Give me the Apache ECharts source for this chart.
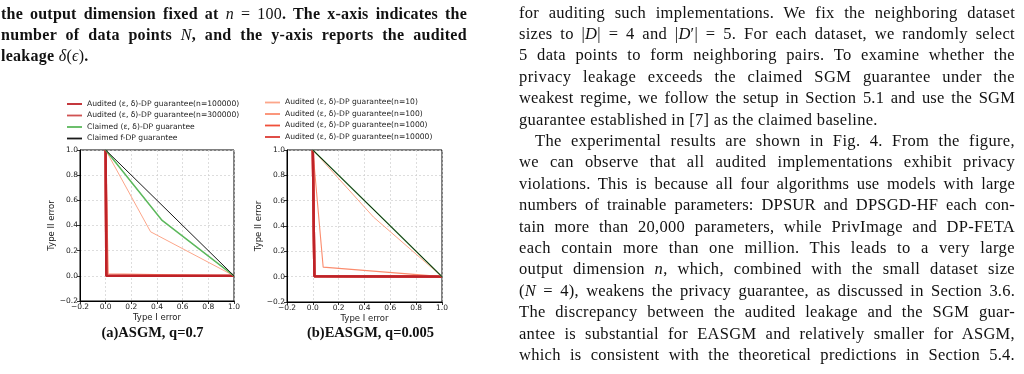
<!DOCTYPE html>
<html>
<head>
<meta charset="utf-8">
<script src="https://cdn.jsdelivr.net/npm/echarts/dist/echarts.min.js"></script>
<style>
  html, body { margin:0; padding:0; background:#fff; }
  #wrap { position:relative; width:1024px; height:374px; overflow:hidden; background:#fff; }
  #chart { position:absolute; left:0; top:0; width:1024px; height:374px; }
  .ln { position:absolute; height:21px; line-height:21px; white-space:nowrap; color:#111; }
  .body { font-family:"Liberation Serif", "DejaVu Serif", serif; font-size:16.5px; }
  .cap { font-family:"Liberation Serif", "DejaVu Serif", serif; font-size:16px; font-weight:bold; }
  .m { font-weight:normal; font-style:italic; }
  .r { font-weight:normal; }
</style>
</head>
<body>
<div id="wrap">
  <div id="chart"></div>
  <div id="text"></div>
</div>
<script>
// ---------- data ----------
const axisMin = -0.2, axisMax = 1.0, axisStep = 0.2;
const tickLabels = ['\u22120.2', '0.0', '0.2', '0.4', '0.6', '0.8', '1.0'];

const nameN10     = 'Audited (\u03b5, \u03b4)-DP guarantee(n=10)';
const nameN100    = 'Audited (\u03b5, \u03b4)-DP guarantee(n=100)';
const nameN1000   = 'Audited (\u03b5, \u03b4)-DP guarantee(n=1000)';
const nameN10000  = 'Audited (\u03b5, \u03b4)-DP guarantee(n=10000)';
const nameN100000 = 'Audited (\u03b5, \u03b4)-DP guarantee(n=100000)';
const nameN300000 = 'Audited (\u03b5, \u03b4)-DP guarantee(n=300000)';
const nameEdp     = 'Claimed (\u03b5, \u03b4)-DP guarantee';
const nameFdp     = 'Claimed f-DP guarantee';

// (a) ASGM, q=0.7   points are [Type I error, Type II error]
const asgmN10     = [[0, 1], [0.35, 0.35], [1, 0]];
const asgmN100    = [[0, 1], [0.02, 0.017], [1, 0]];
const asgmN1000   = [[0, 1], [0.006, 0.002], [1, 0]];
const asgmN10000  = [[0, 1], [0.006, 0.001], [1, 0]];
const asgmN100000 = [[0, 1], [0.005, 0], [1, 0]];
const asgmN300000 = [[0, 1], [0.005, 0], [1, 0]];
const asgmEdp     = [[0, 1], [0.44, 0.44], [1, 0]];
const asgmFdp     = [[0, 1], [1, 0]];

// (b) EASGM, q=0.005
const easgmN10     = [[0, 1], [0.47, 0.47], [1, 0]];
const easgmN100    = [[0, 1], [0.08, 0.075], [1, 0]];
const easgmN1000   = [[0, 1], [0.012, 0.005], [1, 0]];
const easgmN10000  = [[0, 1], [0.012, 0.004], [1, 0]];
const easgmN100000 = [[0, 1], [0.012, 0.003], [1, 0]];
const easgmN300000 = [[0, 1], [0.012, 0.003], [1, 0]];
const easgmEdp     = [[0, 1], [0.5, 0.5], [1, 0]];
const easgmFdp     = [[0, 1], [1, 0]];

const legendA = [nameN100000, nameN300000, nameEdp, nameFdp];
const legendB = [nameN10, nameN100, nameN1000, nameN10000];

const captionA = '(a)ASGM, q=0.7';
const captionB = '(b)EASGM, q=0.005';
const xName = 'Type I error';
const yName = 'Type II error';

// ---------- page text ----------
const leftLines = [
  'the output dimension fixed at <span class="m">n</span> <span class="r">= 100</span>. The x-axis indicates the',
  'number of data points <span class="m">N</span>, and the y-axis reports the audited',
  'leakage <span class="m">\u03b4</span><span class="r">(</span><span class="m">\u03f5</span><span class="r">)</span>.'
];
const rightLines = [
  'for auditing such implementations. We fix the neighboring dataset',
  'sizes to |<i>D</i>| = 4 and |<i>D</i>\u2032| = 5. For each dataset, we randomly select',
  '5 data points to form neighboring pairs. To examine whether the',
  'privacy leakage exceeds the claimed SGM guarantee under the',
  'weakest regime, we follow the setup in Section 5.1 and use the SGM',
  'guarantee established in [7] as the claimed baseline.',
  'The experimental results are shown in Fig. 4. From the figure,',
  'we can observe that all audited implementations exhibit privacy',
  'violations. This is because all four algorithms use models with large',
  'numbers of trainable parameters: DPSUR and DPSGD-HF each con-',
  'tain more than 20,000 parameters, while PrivImage and DP-FETA',
  'each contain more than one million. This leads to a very large',
  'output dimension <i>n</i>, which, combined with the small dataset size',
  '(<i>N</i> = 4), weakens the privacy guarantee, as discussed in Section 3.6.',
  'The discrepancy between the audited leakage and the SGM guar-',
  'antee is substantial for EASGM and relatively smaller for ASGM,',
  'which is consistent with the theoretical predictions in Section 5.4.'
];

// place a line and stretch it to the target width (letter + word spacing)
function placeLine(host, cls, html, left, centerY, target, justify, fallbackLS) {
  const d = document.createElement('div');
  d.className = 'ln ' + cls;
  d.style.left = left + 'px';
  d.style.top = (centerY - 10.5) + 'px';
  d.innerHTML = html;
  host.appendChild(d);
  if (justify) {
    const w = d.getBoundingClientRect().width;
    const txt = d.textContent;
    const nChars = txt.length;
    const nSpaces = (txt.match(/ /g) || []).length || 1;
    const extra = target - w;
    const ls = Math.max(-0.3, Math.min(0.5, extra * 0.3 / nChars));
    d.style.letterSpacing = ls + 'px';
    const w2 = d.getBoundingClientRect().width;
    d.style.wordSpacing = ((target - w2) / nSpaces) + 'px';
    return ls;
  } else {
    d.style.letterSpacing = (fallbackLS || 0) + 'px';
    return fallbackLS || 0;
  }
}

(function buildText() {
  const host = document.getElementById('text');
  let acc = 0, cnt = 0;
  leftLines.forEach((t, i) => {
    const j = i < 2;
    const ls = placeLine(host, 'cap', t, 1, 13 + i * 21.2, 466, j, cnt ? acc / cnt : 0);
    if (j) { acc += ls; cnt++; }
  });
  acc = 0; cnt = 0;
  rightLines.forEach((t, i) => {
    const j = !(i === 5);
    const left = i === 6 ? 535 : 519;
    const ls = placeLine(host, 'body', t, left, 12 + i * 21.4, 1015 - left, j, cnt ? acc / cnt : 0);
    if (j) { acc += ls; cnt++; }
  });
})();

// ---------- chart ----------
const colors = {
  n10: '#fca68a', n100: '#fb8c6e', n1000: '#f0503b', n10000: '#dc3a33',
  n100000: '#be2228', n300000: '#d05252', edp: '#5cb85c', fdp: '#1a1a1a'
};

function fmt(v) {
  const r = Math.round(v * 10) / 10;
  const i = Math.round((r - axisMin) / axisStep);
  return tickLabels[i] !== undefined ? tickLabels[i] : r.toFixed(1);
}

const axisFont = { fontSize: 7.5, fontFamily: 'DejaVu Sans', color: '#222' };
const nameFont = { fontSize: 8.5, fontFamily: 'DejaVu Sans', color: '#222' };
function xAxis(gi) {
  return {
    type: 'value', gridIndex: gi, min: axisMin, max: axisMax, interval: axisStep,
    name: xName, nameLocation: 'middle', nameGap: 12,
    nameTextStyle: nameFont,
    axisLine: { show: true, onZero: false, lineStyle: { color: '#000', width: 1 } },
    axisTick: { show: true, length: 3, lineStyle: { color: '#000', width: 0.8 } },
    axisLabel: Object.assign({ margin: 2, formatter: fmt, showMinLabel: true, showMaxLabel: true }, axisFont),
    splitLine: { show: true, lineStyle: { color: '#cfcfcf', width: 0.7, type: [2, 2] } }
  };
}
function yAxis(gi) {
  return {
    type: 'value', gridIndex: gi, min: axisMin, max: axisMax, interval: axisStep,
    name: yName, nameLocation: 'middle', nameGap: 24,
    nameTextStyle: nameFont,
    axisLine: { show: true, onZero: false, lineStyle: { color: '#000', width: 1 } },
    axisTick: { show: true, length: 3, lineStyle: { color: '#000', width: 0.8 } },
    axisLabel: Object.assign({ margin: 2, formatter: fmt, showMinLabel: true, showMaxLabel: true }, axisFont),
    splitLine: { show: true, lineStyle: { color: '#cfcfcf', width: 0.7, type: [2, 2] } }
  };
}
function line(name, data, color, width, gi, z) {
  return {
    type: 'line', name: name, data: data, xAxisIndex: gi, yAxisIndex: gi,
    showSymbol: false, symbol: 'none', silent: true, z: z || 2,
    color: color, itemStyle: { color: color },
    lineStyle: { color: color, width: width }
  };
}
function seriesFor(gi, d) {
  return [
    line(nameN10, d[0], colors.n10, 1, gi),
    line(nameN100, d[1], colors.n100, 1.1, gi),
    line(nameN1000, d[2], colors.n1000, 2.4, gi),
    line(nameN10000, d[3], colors.n10000, 2.4, gi),
    line(nameN300000, d[5], colors.n300000, 2.4, gi),
    line(nameN100000, d[4], colors.n100000, 2.4, gi),
    line(nameEdp, d[6], colors.edp, 1.5, gi),
    line(nameFdp, d[7], colors.fdp, 1, gi)
  ];
}
const legendText = { fontSize: 7.6, fontFamily: 'DejaVu Sans', color: '#222', lineHeight: 9 };

const chart = echarts.init(document.getElementById('chart'), null, { renderer: 'canvas' });
chart.setOption({
  animation: false,
  backgroundColor: 'transparent',
  grid: [
    { left: 80, top: 150, width: 154, height: 151, show: true, borderColor: '#000', borderWidth: 1, backgroundColor: 'transparent' },
    { left: 287, top: 150, width: 155, height: 152, show: true, borderColor: '#000', borderWidth: 1, backgroundColor: 'transparent' }
  ],
  xAxis: [xAxis(0), xAxis(1)],
  yAxis: [yAxis(0), yAxis(1)],
  legend: [
    { data: legendA, orient: 'vertical', left: 67, top: 99.5, icon: 'rect', itemWidth: 15, itemHeight: 1.8,
      itemGap: 2.5, padding: 0, textStyle: legendText, selectedMode: false },
    { data: legendB, orient: 'vertical', left: 265, top: 98, icon: 'rect', itemWidth: 15, itemHeight: 1.8,
      itemGap: 2.5, padding: 0, textStyle: legendText, selectedMode: false }
  ],
  series: seriesFor(0, [asgmN10, asgmN100, asgmN1000, asgmN10000, asgmN100000, asgmN300000, asgmEdp, asgmFdp])
    .concat(seriesFor(1, [easgmN10, easgmN100, easgmN1000, easgmN10000, easgmN100000, easgmN300000, easgmEdp, easgmFdp])),
  graphic: [
    { type: 'text', x: 152.5, y: 333, silent: true,
      style: { text: captionA, font: 'bold 14.5px "Liberation Serif"', fill: '#111', align: 'center', verticalAlign: 'middle' } },
    { type: 'text', x: 370.5, y: 333, silent: true,
      style: { text: captionB, font: 'bold 14.5px "Liberation Serif"', fill: '#111', align: 'center', verticalAlign: 'middle' } }
  ]
});
</script>
</body>
</html>
